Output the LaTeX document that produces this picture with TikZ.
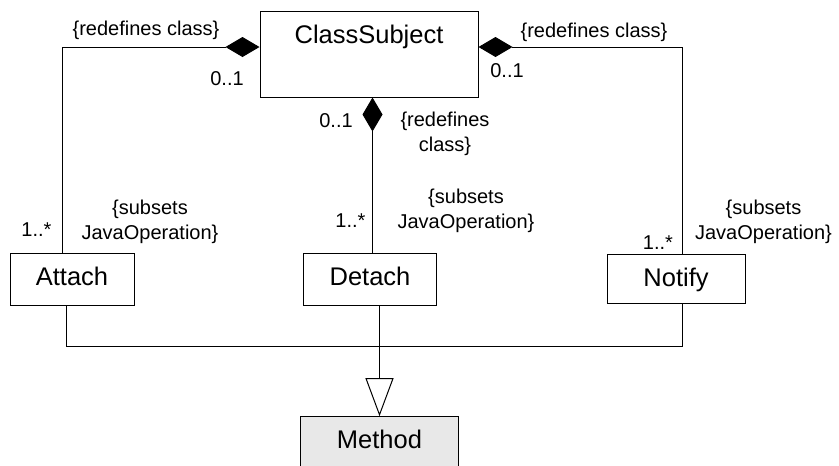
\documentclass[tikz,border=0pt]{standalone}
\usepackage{fontspec}
\setmainfont{Liberation Sans}
\usetikzlibrary{arrows.meta}
\definecolor{methodgray}{HTML}{E8E8E8}
\begin{document}
\begin{tikzpicture}[x=1pt,y=-1pt,
  box/.style={draw=black, line width=1pt, inner sep=0pt, fill=white},
  boxtext/.style={font=\fontsize{25.5}{30}\selectfont, anchor=base, inner sep=0pt},
  lbl/.style={font=\fontsize{20}{25}\selectfont, anchor=base, inner sep=0pt, align=center},
  conn/.style={line width=1pt},
  comp/.style={conn, -{Diamond[length=34pt,width=20pt]}},
  gen/.style={conn, -{Triangle[open,length=38pt,width=28pt]}}]
\useasboundingbox (0,0) rectangle (839,466);
% classes
\node[box, minimum width=218pt, minimum height=86pt] (cs) at (369,54) {};
\node[boxtext] (cst) at (369,43.3) {ClassSubject};
\node[box, minimum width=124pt, minimum height=52pt] (att) at (72,279.3) {};
\node[boxtext] (attt) at (72,285) {Attach};
\node[box, minimum width=133pt, minimum height=52pt] (det) at (369.5,279.3) {};
\node[boxtext] (dett) at (370,285) {Detach};
\node[box, minimum width=138pt, minimum height=49.3pt] (ntf) at (676.3,279.3) {};
\node[boxtext] (ntft) at (676,286) {Notify};
\node[box, fill=methodgray, minimum width=158.4pt, minimum height=60pt] (met) at (379.5,446.7) {};
\node[boxtext] (mett) at (379.5,448.3) {Method};
% compositions
\draw[comp] ([xshift=-10pt]att.north) |- ([yshift=7pt]cs.west);
\draw[comp] ([xshift=6pt]ntf.north) |- ([yshift=7pt]cs.east);
\draw[comp] ([xshift=3pt]det.north) -- ([xshift=3pt]det.north |- cs.south);
% generalization
\coordinate (junc) at (379.5,346);
\draw[conn] ([xshift=-6pt]att.south) |- (junc);
\draw[conn] ([xshift=6pt]ntf.south) |- (junc);
\draw[gen] ([xshift=10pt]det.south) -- ([xshift=10pt]det.south |- met.north);
% labels
\node[lbl] (l1) at (146,35) {\{redefines class\}};
\node[lbl] (l2) at (227,85) {0..1};
\node[lbl] (l3) at (594,37.3) {\{redefines class\}};
\node[lbl] (l4) at (507,77.3) {0..1};
\node[lbl] (l5) at (336,127.3) {0..1};
\node[lbl] (l6) at (445,151.7) {\{redefines\\class\}};
\node[lbl] (l7) at (466,228.3) {\{subsets\\JavaOperation\}};
\node[lbl] (l8) at (350.5,227.3) {1..*};
\node[lbl] (l9) at (150,239.3) {\{subsets\\JavaOperation\}};
\node[lbl] (l10) at (36.5,236.7) {1..*};
\node[lbl] (l11) at (763.5,239.3) {\{subsets\\JavaOperation\}};
\node[lbl] (l12) at (658,249.3) {1..*};
\end{tikzpicture}
\end{document}
